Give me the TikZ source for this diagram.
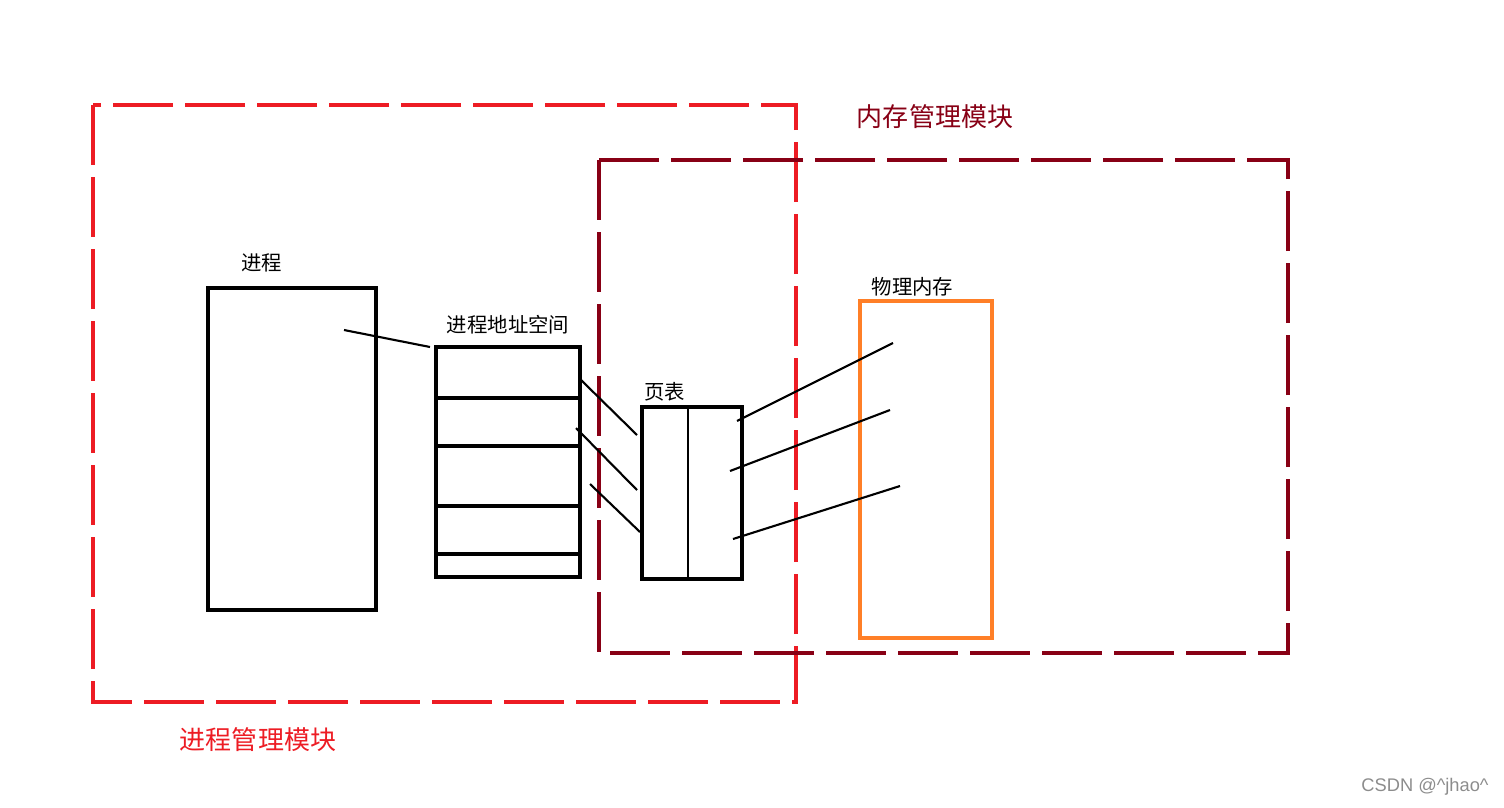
\documentclass[tikz,border=0pt]{standalone}
\usepackage{fontspec}
\setsansfont{Liberation Sans}
\newfontfamily\cjk{Noto Sans CJK SC}
\usepackage{xcolor}
\usepackage{tikz}
\usetikzlibrary{positioning, calc}

\definecolor{procred}{RGB}{237,28,36}
\definecolor{memred}{RGB}{136,0,21}
\definecolor{memorange}{RGB}{255,127,39}

\begin{document}
\begin{tikzpicture}[
    box/.style={draw, rectangle, line width=0.9pt, inner sep=0pt},
    link/.style={line width=0.6pt},
    region/.style={line width=1.15pt, dash pattern=on 0.6cm off 0.12cm},
    lbl/.style={font=\cjk\fontsize{5.8}{6}\selectfont, inner sep=0pt},
    big/.style={font=\cjk\fontsize{7.4}{8}\selectfont, inner sep=0pt}
  ]
  \useasboundingbox (0,0) rectangle (15.04,8.07);

  % module frames
  \draw[region, procred] (0.93,7.02) rectangle (7.96,1.05);
  \draw[region, memred] (5.99,6.47) rectangle (12.88,1.54);
  \node[big, text=memred] (memtitle) at (9.35,6.90) {内存管理模块};
  \node[big, text=procred] (proctitle) at (2.58,0.67) {进程管理模块};

  % boxes
  \node[box, minimum width=1.68cm, minimum height=3.22cm] (proc) at (2.92,3.58) {};
  \node[lbl, above=0.14cm of proc.north west, xshift=0.55cm] {进程};
  \node[box, minimum width=1.44cm, minimum height=2.30cm] (addr) at (5.08,3.45) {};
  \node[lbl, above=0.11cm of addr] {进程地址空间};
  \foreach \y in {4.09, 3.61, 3.01, 2.53} {
    \draw[line width=0.9pt] (addr.west |- 0,\y) -- (addr.east |- 0,\y);
  }
  \node[box, minimum width=1.00cm, minimum height=1.72cm] (ptab) at (6.92,3.14) {};
  \node[lbl, above=0.04cm of ptab.north west, xshift=0.24cm] {页表};
  \draw[line width=0.6pt] (6.88,0 |- ptab.north) -- (6.88,0 |- ptab.south);
  \node[box, draw=memorange, minimum width=1.32cm, minimum height=3.37cm] (pmem) at (9.26,3.375) {};
  \node[lbl, above=0.03cm of pmem.north west, xshift=0.54cm] {物理内存};

  % mapping lines
  \coordinate (a0) at (3.44,4.77);
  \draw[link] (a0) -- (4.30,4.60);
  \foreach \xa/\ya/\xb/\yb in {5.80/4.28/6.37/3.72, 5.76/3.79/6.37/3.17, 5.90/3.23/6.40/2.75} {
    \draw[link] (\xa,\ya) -- (\xb,\yb);
  }
  \foreach \xa/\ya/\xb/\yb in {7.37/3.86/8.93/4.64, 7.30/3.36/8.90/3.97, 7.33/2.68/9.00/3.21} {
    \draw[link] (\xa,\ya) -- (\xb,\yb);
  }

  \node[font=\sffamily\fontsize{5.2}{6}\selectfont, text=black!45, inner sep=0pt] (mark) at (14.25,0.20) {CSDN @\^{}jhao\^{}};
\end{tikzpicture}
\end{document}
